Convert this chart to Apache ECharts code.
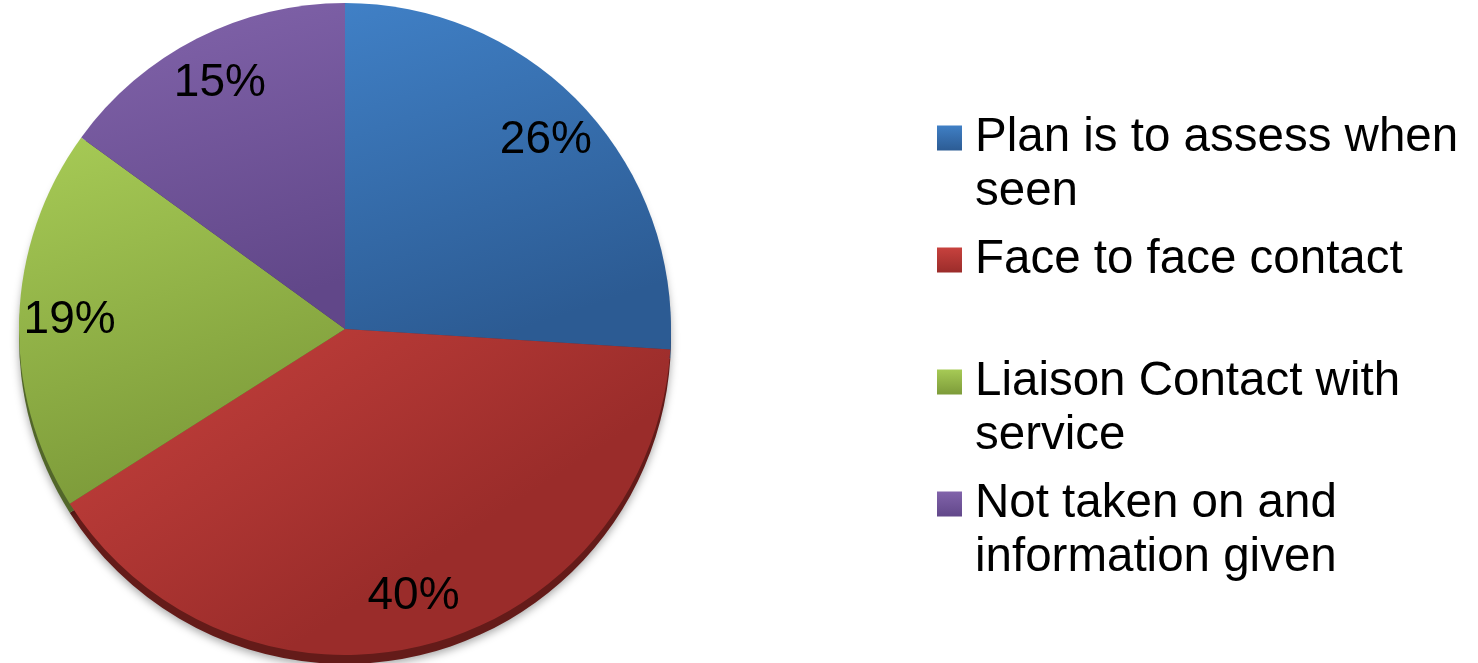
<!DOCTYPE html>
<html>
<head>
<meta charset="utf-8">
<script src="https://cdn.jsdelivr.net/npm/echarts@6/dist/echarts.min.js"></script>
<style>
html,body{margin:0;padding:0;background:#fff;}
#chart{width:1478px;height:663px;}
</style>
</head>
<body>
<div id="chart"></div>
<script>
// ---- data ----
const categories = [
  'Plan is to assess when seen',
  'Face to face contact',
  'Liaison Contact with service',
  'Not taken on and information given'
];
const values = [26, 40, 19, 15];
const legendLines = [
  'Plan is to assess when\nseen',
  'Face to face contact\n\u00a0',
  'Liaison Contact with\nservice',
  'Not taken on and\ninformation given'
];

// ---- styles ----
const topColors    = ['#4080C6', '#C8423E', '#A7CB56', '#8264AB'];
const bottomColors = ['#2C5B93', '#9A2C2A', '#7C9A39', '#614789'];
const sideColors   = ['#1E3F68', '#641B19', '#52662A', '#3D2C58'];
const CX = 345, CY = 329, R = 326, DEPTH = 9, LABEL_K = 1.66;
// legend marker: square at the first text line, inside a box as tall as two lines
const LEGEND_ICON = 'path://M0,0L0.01,0L0,0.01Z M33,0L33.01,0L33,0.01Z M0,14.5H25V39.5H0Z M0,108L0.01,108L0,107.99Z';

function grad(i) {
  return new echarts.graphic.LinearGradient(0, 0, 0.35, 1, [
    { offset: 0, color: topColors[i] },
    { offset: 1, color: bottomColors[i] }
  ]);
}

const mainData = categories.map((n, i) => ({
  name: n, value: values[i], itemStyle: { color: grad(i) }
}));
const sideData = categories.map((n, i) => ({
  name: n, value: values[i], itemStyle: { color: sideColors[i] }
}));

const chart = echarts.init(document.getElementById('chart'), null, { renderer: 'canvas' });
chart.setOption({
  animation: false,
  backgroundColor: '#ffffff',
  textStyle: { fontFamily: 'Liberation Sans, Arial, sans-serif' },
  legend: {
    orient: 'vertical',
    left: 937,
    top: 111,
    padding: 0,
    itemWidth: 33,
    itemHeight: 108,
    itemGap: 14,
    icon: LEGEND_ICON,
    selectedMode: false,
    data: categories.map((n, i) => ({
      name: n,
      itemStyle: { color: new echarts.graphic.LinearGradient(0, 0.13, 0, 0.37, [
        { offset: 0, color: topColors[i] },
        { offset: 1, color: bottomColors[i] }
      ]) }
    })),
    formatter: function (name) { return legendLines[categories.indexOf(name)]; },
    textStyle: {
      fontFamily: 'Liberation Sans, Arial, sans-serif',
      fontSize: 47.5,
      lineHeight: 54,
      color: '#000'
    }
  },
  series: [
    {
      type: 'pie',
      name: 'main',
      z: 3,
      center: [CX, CY],
      radius: [0, R],
      startAngle: 90,
      clockwise: true,
      silent: true,
      avoidLabelOverlap: false,
      itemStyle: { borderWidth: 0 },
      label: {
        show: true,
        position: 'inside',
        formatter: '{d}%',
        fontFamily: 'Liberation Sans, Arial, sans-serif',
        fontSize: 46,
        color: '#000'
      },
      labelLine: { show: false },
      labelLayout: function (p) {
        const lx = p.labelRect.x + p.labelRect.width / 2;
        const ly = p.labelRect.y + p.labelRect.height / 2;
        return { x: CX + (lx - CX) * LABEL_K, y: CY + (ly - CY) * LABEL_K };
      },
      data: mainData
    },
    {
      type: 'pie',
      name: 'side',
      z: 1,
      center: [CX, CY + DEPTH],
      radius: [0, R],
      startAngle: 90,
      clockwise: true,
      silent: true,
      legendHoverLink: false,
      itemStyle: {
        borderWidth: 0,
        shadowBlur: 8,
        shadowOffsetY: 3,
        shadowColor: 'rgba(0,0,0,0.35)'
      },
      label: { show: false },
      labelLine: { show: false },
      data: sideData
    }
  ]
});
</script>
</body>
</html>
